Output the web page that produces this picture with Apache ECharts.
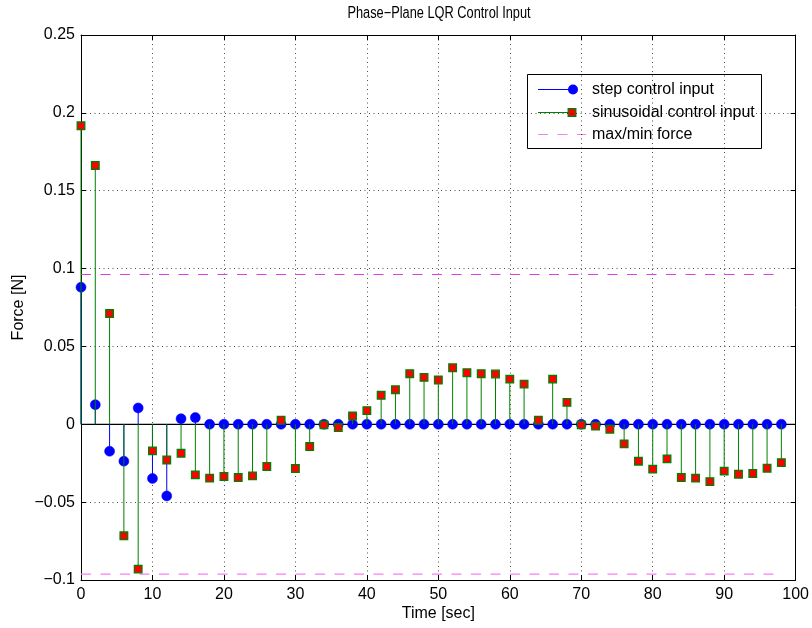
<!DOCTYPE html>
<html>
<head>
<meta charset="utf-8">
<title>Phase-Plane LQR Control Input</title>
<script src="https://cdn.jsdelivr.net/npm/echarts@6/dist/echarts.min.js"></script>
<style>
  html, body { margin: 0; padding: 0; background: #fff; }
  #chart { width: 812px; height: 628px; }
</style>
</head>
<body>
<div id="chart"></div>
<script>
// Sample times [sec]
const timeSec = [0, 2, 4, 6, 8, 10, 12, 14, 16, 18,
                 20, 22, 24, 26, 28, 30, 32, 34, 36, 38,
                 40, 42, 44, 46, 48, 50, 52, 54, 56, 58,
                 60, 62, 64, 66, 68, 70, 72, 74, 76, 78,
                 80, 82, 84, 86, 88, 90, 92, 94, 96, 98];

// Control force for the step reference [N]
const stepInput = [0.088, 0.0126, -0.0173, -0.0237, 0.0105, -0.0348, -0.046, 0.0036, 0.0043, 0,
                   0, 0, 0, 0, 0, 0, 0, 0, 0, 0,
                   0, 0, 0, 0, 0, 0, 0, 0, 0, 0,
                   0, 0, 0, 0, 0, 0, 0, 0, 0, 0,
                   0, 0, 0, 0, 0, 0, 0, 0, 0, 0];

// Control force for the sinusoidal reference [N]
const sineInput = [0.1917, 0.1662, 0.0711, -0.0716, -0.093, -0.0171, -0.0229, -0.0186, -0.0325, -0.0346,
                   -0.0335, -0.0342, -0.0331, -0.0271, 0.0026, -0.0284, -0.0143, -0.0004, -0.0021, 0.0053,
                   0.0088, 0.0186, 0.0222, 0.0325, 0.0301, 0.0284, 0.0363, 0.0331, 0.0325, 0.0323,
                   0.029, 0.0258, 0.0026, 0.029, 0.0141, -0.0004, -0.0012, -0.0032, -0.0126, -0.0237,
                   -0.0288, -0.0222, -0.0342, -0.0346, -0.0368, -0.0301, -0.0321, -0.0316, -0.0282, -0.0246];

// Actuator saturation limit [N] and the time span it is drawn over
const forceLimit = 0.0962;
const limitSpan = [0, 98];

// Axis ranges
const xTicks = { min: 0, max: 100, step: 10 };
const yTicks = { min: -0.1, max: 0.25, step: 0.05 };

const FONT = 'Liberation Sans, Arial, Helvetica, sans-serif';
const FS = 16;
const BLUE = '#0000ff';
const GREEN = '#008000';
const RED = '#ff0000';
const LIMIT_DARK = '#e23ce2';
const LIMIT_LIGHT = '#f77ef7';

const pairs = (xs, ys) => xs.map((x, i) => [x, ys[i]]);

// A stem: a line from the zero baseline up to the value, capped by a marker
function stemRenderer(marker, stemColor) {
  return function (params, api) {
    const x = api.value(0), y = api.value(1);
    const base = api.coord([x, 0]);
    const tip = api.coord([x, y]);
    const children = [{
      type: 'line',
      shape: { x1: base[0], y1: base[1], x2: tip[0], y2: tip[1] },
      style: { stroke: stemColor, lineWidth: 1 }
    }];
    if (marker === 'circle') {
      children.push({
        type: 'circle',
        shape: { cx: tip[0], cy: tip[1], r: 5 },
        style: { fill: BLUE, stroke: BLUE, lineWidth: 0.5 }
      });
    } else {
      children.push({
        type: 'rect',
        shape: { x: tip[0] - 3.8, y: tip[1] - 3.8, width: 7.6, height: 7.6 },
        style: { fill: RED, stroke: GREEN, lineWidth: 1.3 }
      });
    }
    return { type: 'group', children: children };
  };
}

const minusFmt = v => String(+v.toFixed(4)).replace('-', '\u2212');

const textStyle = { color: '#000', fontSize: FS, fontFamily: FONT };
const gridLine = { show: true, lineStyle: { color: '#000', type: [1, 3.5], width: 1, opacity: 0.7 } };
const boxLine = { show: true, onZero: false, lineStyle: { color: '#000', width: 1 } };
const inTick = { show: true, inside: true, length: 5, lineStyle: { color: '#000' } };

const chart = echarts.init(document.getElementById('chart'), null, { renderer: 'canvas' });

chart.setOption({
  backgroundColor: '#fff',
  animation: false,
  grid: { left: 81, right: 15, top: 35, bottom: 48 },
  xAxis: [{
    type: 'value',
    min: xTicks.min, max: xTicks.max, interval: xTicks.step,
    position: 'bottom',
    name: 'Time [sec]',
    nameLocation: 'middle',
    nameGap: 26,
    nameMoveOverlap: false,
    nameTextStyle: textStyle,
    axisLine: boxLine,
    axisTick: inTick,
    axisLabel: Object.assign({ margin: 7, formatter: minusFmt }, textStyle),
    splitLine: gridLine
  }, {
    type: 'value',
    min: xTicks.min, max: xTicks.max, interval: xTicks.step,
    position: 'top',
    axisLine: boxLine,
    axisTick: inTick,
    axisLabel: { show: false },
    splitLine: { show: false }
  }],
  yAxis: [{
    type: 'value',
    min: yTicks.min, max: yTicks.max, interval: yTicks.step,
    position: 'left',
    name: 'Force [N]',
    nameLocation: 'middle',
    nameGap: 54,
    nameMoveOverlap: false,
    nameRotate: 90,
    nameTextStyle: textStyle,
    axisLine: boxLine,
    axisTick: inTick,
    axisLabel: Object.assign({ margin: 6, formatter: minusFmt }, textStyle),
    splitLine: gridLine
  }, {
    type: 'value',
    min: yTicks.min, max: yTicks.max, interval: yTicks.step,
    position: 'right',
    axisLine: boxLine,
    axisTick: inTick,
    axisLabel: { show: false },
    splitLine: { show: false }
  }],
  series: [
    {
      // stem baseline at zero force
      type: 'line',
      data: [[xTicks.min, 0], [xTicks.max, 0]],
      symbol: 'none',
      lineStyle: { color: '#000', width: 1.2 },
      silent: true,
      z: 2
    },
    {
      type: 'line',
      name: 'max force',
      data: [[limitSpan[0], forceLimit], [limitSpan[1], forceLimit]],
      symbol: 'none',
      lineStyle: { color: LIMIT_DARK, width: 1.2, type: [10, 9.5] },
      silent: true,
      z: 3
    },
    {
      type: 'line',
      name: 'min force',
      data: [[limitSpan[0], -forceLimit], [limitSpan[1], -forceLimit]],
      symbol: 'none',
      lineStyle: { color: LIMIT_LIGHT, width: 1.2, type: [10, 9.5] },
      silent: true,
      z: 3
    },
    {
      type: 'custom',
      name: 'step control input',
      data: pairs(timeSec, stepInput),
      renderItem: stemRenderer('circle', BLUE),
      clip: false,
      z: 4
    },
    {
      type: 'custom',
      name: 'sinusoidal control input',
      data: pairs(timeSec, sineInput),
      renderItem: stemRenderer('square', GREEN),
      clip: false,
      z: 5
    }
  ],
  graphic: [
    // title, set slightly condensed
    {
      type: 'text',
      x: 439,
      y: 14,
      scaleX: 0.8,
      z: 100,
      style: {
        text: 'Phase\u2212Plane LQR Control Input',
        align: 'center',
        verticalAlign: 'middle',
        fill: '#000',
        font: FS + 'px ' + FONT
      }
    },
    // legend
    {
      type: 'group',
      left: 527,
      top: 74,
      z: 100,
      children: [
        { type: 'rect', shape: { x: 0.5, y: 0.5, width: 234, height: 74 },
          style: { fill: '#fff', stroke: '#000', lineWidth: 1 } },
        // step entry
        { type: 'line', shape: { x1: 11, y1: 15.5, x2: 46, y2: 15.5 }, style: { stroke: BLUE, lineWidth: 1 } },
        { type: 'circle', shape: { cx: 46, cy: 15.5, r: 5 }, style: { fill: BLUE } },
        { type: 'text', style: { x: 65, y: 15.5, text: 'step control input', verticalAlign: 'middle',
          fill: '#000', font: FS + 'px ' + FONT } },
        // sinusoidal entry
        { type: 'line', shape: { x1: 11, y1: 38.5, x2: 45, y2: 38.5 }, style: { stroke: GREEN, lineWidth: 1 } },
        { type: 'rect', shape: { x: 41.2, y: 34.7, width: 7.6, height: 7.6 },
          style: { fill: RED, stroke: GREEN, lineWidth: 1.3 } },
        { type: 'text', style: { x: 65, y: 38.5, text: 'sinusoidal control input', verticalAlign: 'middle',
          fill: '#000', font: FS + 'px ' + FONT } },
        // limit entry
        { type: 'line', shape: { x1: 11, y1: 60.5, x2: 59, y2: 60.5 },
          style: { stroke: LIMIT_LIGHT, lineWidth: 1.2, lineDash: [10, 9.5] } },
        { type: 'text', style: { x: 65, y: 60.5, text: 'max/min force', verticalAlign: 'middle',
          fill: '#000', font: FS + 'px ' + FONT } }
      ]
    }
  ]
});
</script>
</body>
</html>
